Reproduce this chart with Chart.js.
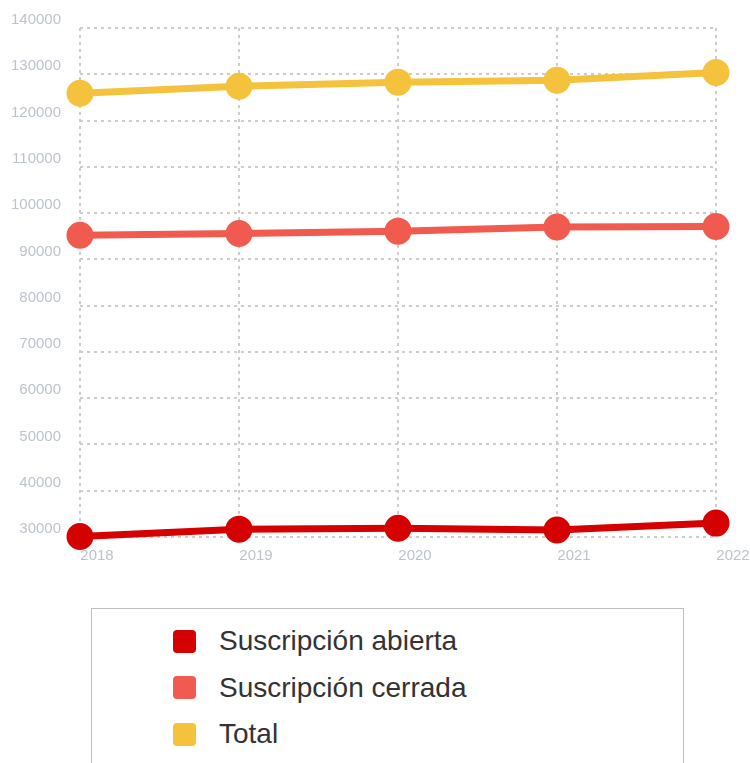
<!DOCTYPE html>
<html>
<head>
<meta charset="utf-8">
<script src="https://cdn.jsdelivr.net/npm/chart.js@4.4.0/dist/chart.umd.min.js"></script>
<style>
  html, body { margin: 0; padding: 0; background: #fff; }
  #wrap { position: relative; width: 750px; height: 575px; }
  #legend {
    position: absolute; left: 91px; top: 608px; width: 593px; height: 170px;
    border: 1px solid #bdbdbd; box-sizing: border-box; padding-top: 9px;
  }
  .item { display: flex; align-items: center; height: 46.5px; margin-left: 81px;
    font-family: "Liberation Sans", Arial, sans-serif; font-size: 28px; color: #333; }
  .box { width: 23px; height: 23px; border-radius: 4px; margin-right: 23px; }
</style>
</head>
<body>
<div id="wrap"><canvas id="c"></canvas></div>
<div id="legend"></div>
<script>
const categories = ["2018", "2019", "2020", "2021", "2022"];
const seriesNames = ["Suscripción abierta", "Suscripción cerrada", "Total"];
const abierta = [30100, 31700, 31900, 31500, 33000];
const cerrada = [95200, 95600, 96100, 97000, 97100];
const total = [125900, 127400, 128300, 128700, 130400];
const colors = ["#d50000", "#f05a4f", "#f4c23c"];
const yMin = 30000, yMax = 140000, yStep = 10000;

const seriesData = [abierta, cerrada, total];
const datasets = seriesNames.map((n, i) => ({
  label: n,
  data: seriesData[i],
  borderColor: colors[i],
  backgroundColor: colors[i],
  pointBackgroundColor: colors[i],
  pointBorderColor: colors[i],
  borderWidth: 7,
  pointRadius: 10,
  pointHoverRadius: 10,
  tension: 0,
  clip: false
}));

const tickFont = { family: "'Liberation Sans', Arial, sans-serif", size: 15 };
const chart = new Chart(document.getElementById('c'), {
  type: 'line',
  data: { labels: categories, datasets: datasets },
  options: {
    responsive: true,
    maintainAspectRatio: false,
    animation: false,
    layout: { padding: { top: 28, right: 34, left: 0, bottom: 0 } },
    plugins: { legend: { display: false }, tooltip: { enabled: false } },
    scales: {
      x: {
        grid: { color: '#cccccc', lineWidth: 2, drawTicks: false },
        border: { display: false, dash: [3, 4] },
        ticks: { color: '#bcc3cf', font: tickFont, padding: 10, labelOffset: 17, autoSkip: false, maxRotation: 0 },
      },
      y: {
        min: yMin, max: yMax,
        grid: { color: '#cccccc', lineWidth: 2, drawTicks: false },
        border: { display: false, dash: [3, 4] },
        ticks: { stepSize: yStep, color: '#bcc3cf', font: tickFont, padding: 19, labelOffset: -8,
                 callback: v => String(v) },
        afterFit: s => { s.width = 80; }
      }
    }
  }
});

// HTML legend built from chart datasets
const lg = document.getElementById('legend');
chart.data.datasets.forEach(ds => {
  const it = document.createElement('div'); it.className = 'item';
  const b = document.createElement('span'); b.className = 'box'; b.style.background = ds.backgroundColor;
  const t = document.createElement('span'); t.textContent = ds.label;
  it.appendChild(b); it.appendChild(t); lg.appendChild(it);
});
</script>
</body>
</html>
